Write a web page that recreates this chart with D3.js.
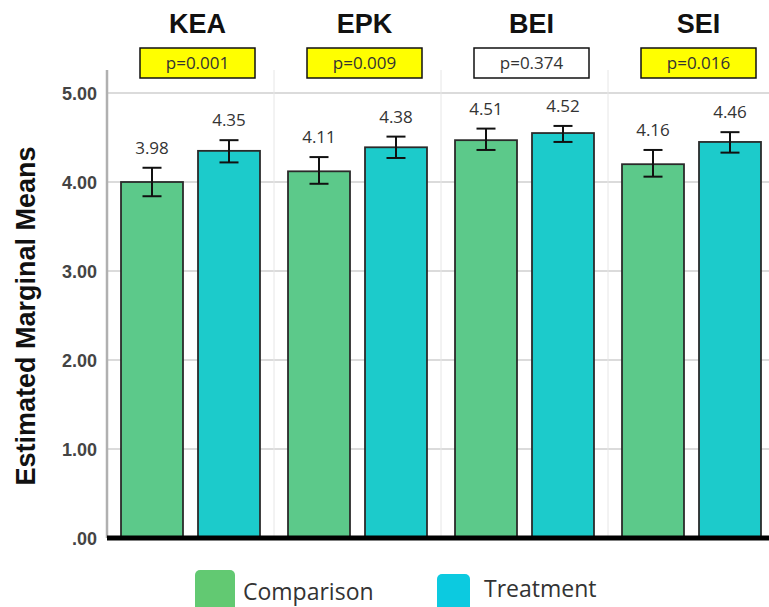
<!DOCTYPE html>
<html>
<head>
<meta charset="utf-8">
<script src="https://cdn.jsdelivr.net/npm/d3@7"></script>
<style>
  html, body { margin: 0; padding: 0; background: #fff; }
  svg { display: block; }
</style>
</head>
<body>
<svg id="chart" width="769" height="607"></svg>
<script>
// ---- data ----
const groups = ["KEA", "EPK", "BEI", "SEI"];
const series = ["Comparison", "Treatment"];
const pValues = ["p=0.001", "p=0.009", "p=0.374", "p=0.016"];
const significant = [true, true, false, true];
const comparisonMeans = [4.00, 4.12, 4.47, 4.20];
const treatmentMeans = [4.35, 4.39, 4.55, 4.45];
const comparisonLabels = ["3.98", "4.11", "4.51", "4.16"];
const treatmentLabels = ["4.35", "4.38", "4.52", "4.46"];
const comparisonLow = [3.84, 3.98, 4.36, 4.06];
const comparisonHigh = [4.16, 4.28, 4.60, 4.36];
const treatmentLow = [4.22, 4.27, 4.45, 4.33];
const treatmentHigh = [4.47, 4.51, 4.63, 4.56];
const yTicks = [0, 1, 2, 3, 4, 5];
const yTickLabels = [".00", "1.00", "2.00", "3.00", "4.00", "5.00"];

(function () {
// ---- layout ----
const svg = d3.select("#chart");
const plotLeft = 107, plotRight = 775, plotTop = 70, zeroY = 538;
const y = d3.scaleLinear().domain([0, 5]).range([zeroY, zeroY - 5 * 89]);
const x0 = d3.scaleBand().domain(groups).range([plotLeft, plotRight]);
const x1 = d3.scaleBand().domain(series).range([0, x0.bandwidth()])
  .paddingInner(0.195).paddingOuter(0.182);
const barFill = { Comparison: "#5cc98a", Treatment: "#1ccbcb" };
const legendFill = { Comparison: "#62c972", Treatment: "#0ccae0" };

const rows = [];
groups.forEach((g, i) => {
  rows.push({ g, s: "Comparison", v: comparisonMeans[i], lab: comparisonLabels[i], lo: comparisonLow[i], hi: comparisonHigh[i] });
  rows.push({ g, s: "Treatment", v: treatmentMeans[i], lab: treatmentLabels[i], lo: treatmentLow[i], hi: treatmentHigh[i] });
});

// gridlines
svg.append("g").selectAll("line").data(yTicks.filter(t => t > 0)).join("line")
  .attr("x1", plotLeft).attr("x2", 769)
  .attr("y1", d => y(d)).attr("y2", d => y(d))
  .attr("stroke", "#cfcfcf").attr("stroke-width", 1.5);

// panel separators
svg.append("g").selectAll("line").data(groups.slice(1)).join("line")
  .attr("x1", d => x0(d)).attr("x2", d => x0(d))
  .attr("y1", plotTop).attr("y2", zeroY)
  .attr("stroke", "#e6e6e6").attr("stroke-width", 1);

// y axis line
svg.append("line").attr("x1", plotLeft).attr("x2", plotLeft).attr("y1", plotTop).attr("y2", zeroY)
  .attr("stroke", "#b0b0b0").attr("stroke-width", 2.5);

// y tick labels
svg.append("g").selectAll("text").data(yTicks).join("text")
  .attr("x", 97).attr("y", d => y(d) + 6.5)
  .attr("text-anchor", "end")
  .attr("font-family", "Liberation Sans, Arial, sans-serif")
  .attr("font-size", 18).attr("font-weight", "bold").attr("fill", "#444")
  .text((d, i) => yTickLabels[i]);

// y axis title
svg.append("text")
  .attr("transform", "translate(35,316) rotate(-90)")
  .attr("text-anchor", "middle")
  .attr("font-family", "Liberation Sans, Arial, sans-serif")
  .attr("font-size", 27).attr("font-weight", "bold").attr("fill", "#111")
  .text("Estimated Marginal Means");

// bars
svg.append("g").selectAll("rect").data(rows).join("rect")
  .attr("x", d => x0(d.g) + x1(d.s))
  .attr("y", d => y(d.v))
  .attr("width", x1.bandwidth())
  .attr("height", d => y(0) - y(d.v))
  .attr("fill", d => barFill[d.s])
  .attr("stroke", "#2a2a2a").attr("stroke-width", 1.8);

// error bars
const eb = svg.append("g").attr("stroke", "#111").attr("stroke-width", 2);
rows.forEach(d => {
  const cx = x0(d.g) + x1(d.s) + x1.bandwidth() / 2;
  eb.append("line").attr("x1", cx).attr("x2", cx).attr("y1", y(d.hi)).attr("y2", y(d.lo));
  eb.append("line").attr("x1", cx - 9.5).attr("x2", cx + 9.5).attr("y1", y(d.hi)).attr("y2", y(d.hi));
  eb.append("line").attr("x1", cx - 9.5).attr("x2", cx + 9.5).attr("y1", y(d.lo)).attr("y2", y(d.lo));
});

// value labels
svg.append("g").selectAll("text").data(rows).join("text")
  .attr("x", d => x0(d.g) + x1(d.s) + x1.bandwidth() / 2)
  .attr("y", d => y(d.hi) - 14)
  .attr("text-anchor", "middle")
  .attr("font-family", "Open Sans, sans-serif")
  .attr("font-size", 17).attr("fill", "#333")
  .text(d => d.lab);

// baseline
svg.append("line").attr("x1", plotLeft).attr("x2", 769).attr("y1", y(0)).attr("y2", y(0))
  .attr("stroke", "#000").attr("stroke-width", 5);

// group titles and p boxes
const headOffset = 7;
groups.forEach((g, i) => {
  const cx = x0(g) + x0.bandwidth() / 2 + headOffset;
  svg.append("text")
    .attr("x", cx).attr("y", 33)
    .attr("text-anchor", "middle")
    .attr("font-family", "Liberation Sans, Arial, sans-serif")
    .attr("font-size", 27).attr("font-weight", "bold").attr("fill", "#111")
    .text(g);
  svg.append("rect")
    .attr("x", cx - 57.5).attr("y", 48).attr("width", 115).attr("height", 30)
    .attr("fill", significant[i] ? "#ffff00" : "#ffffff")
    .attr("stroke", "#111").attr("stroke-width", 1.5);
  svg.append("text")
    .attr("x", cx).attr("y", 69)
    .attr("text-anchor", "middle")
    .attr("font-family", "Open Sans, sans-serif")
    .attr("font-size", 17).attr("fill", "#333")
    .text(pValues[i]);
});

// legend
const legend = [
  { s: "Comparison", x: 195, y: 570, w: 40, tx: 243, ty: 600 },
  { s: "Treatment", x: 437, y: 574, w: 33, tx: 484, ty: 597 }
];
legend.forEach(l => {
  svg.append("rect").attr("x", l.x).attr("y", l.y).attr("width", l.w).attr("height", 45)
    .attr("rx", 5).attr("fill", legendFill[l.s]);
  svg.append("text").attr("x", l.tx).attr("y", l.ty)
    .attr("font-family", "Open Sans, sans-serif")
    .attr("font-size", 23).attr("fill", "#333")
    .text(l.s);
});
})();
</script>
</body>
</html>
